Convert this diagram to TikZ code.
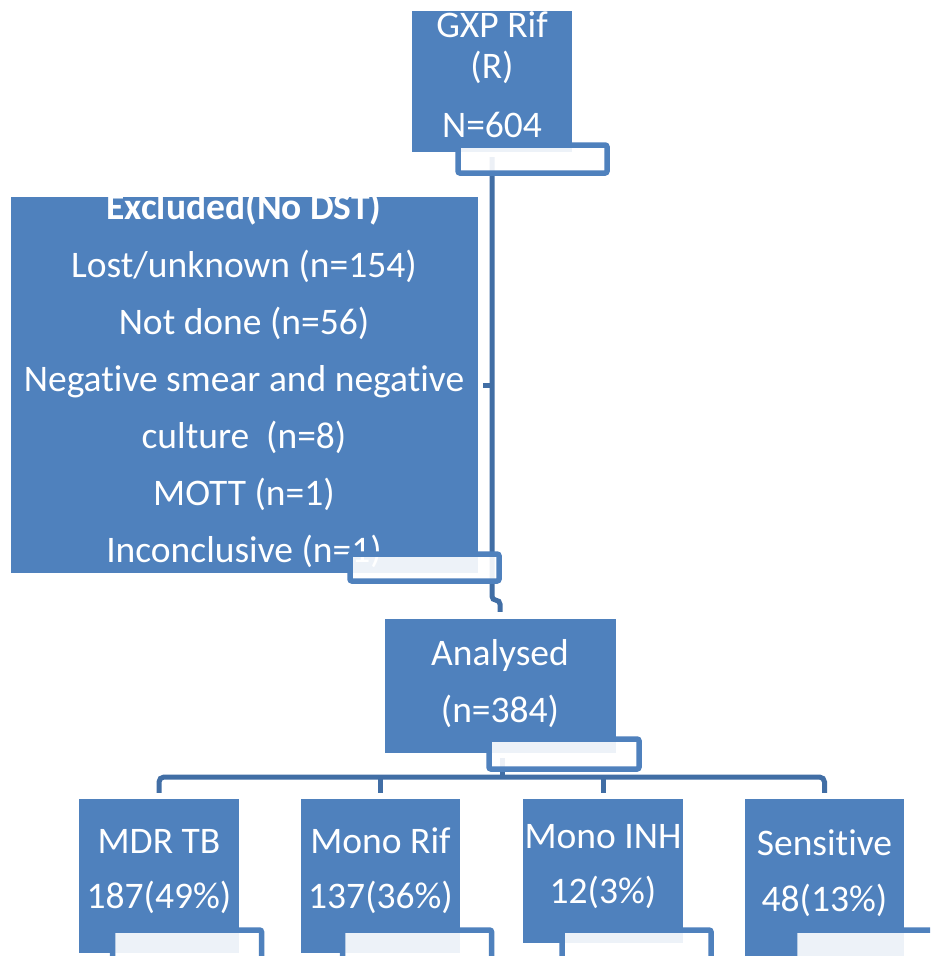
\documentclass[tikz,border=0pt]{standalone}
\usepackage{fontspec}
\setmainfont{Carlito}[Ligatures=NoCommon]
\usepackage{tikz}
\definecolor{boxblue}{HTML}{4F81BD}
\definecolor{lineblue}{HTML}{416EA5}
\tikzset{every node/.style={font=\fontsize{37.5}{45}\selectfont},
  bluebox/.style={fill=boxblue, inner sep=0pt},
  lbl/.style={text=white, anchor=base, inner sep=0pt},
  tagbox/.style={draw=boxblue, line width=5.5pt, fill=white, fill opacity=0.9,
    rounded corners=2pt, inner sep=0pt, minimum width=149pt, minimum height=28pt},
  link/.style={draw=lineblue, line width=5pt}}

\begin{document}
\begin{tikzpicture}[x=1pt,y=-1pt]
  \clip (0,0) rectangle (930,956);
  \fill[white] (0,0) rectangle (930,956);
  % boxes
  \node[bluebox, minimum width=160pt, minimum height=141pt] (gxp) at (492,81.5) {};
  \node[bluebox, minimum width=467pt, minimum height=376pt] (excl) at (244.5,385) {};
  \node[bluebox, minimum width=231pt, minimum height=134pt] (ana) at (500,686) {};
  \node[bluebox, minimum width=160pt, minimum height=154pt] (mdr) at (159,876) {};
  \node[bluebox, minimum width=159pt, minimum height=154pt] (rif) at (380.5,876) {};
  \node[bluebox, minimum width=160pt, minimum height=144pt] (inh) at (603,871) {};
  \node[bluebox, minimum width=159pt, minimum height=162pt] (sens) at (824.5,880) {};
  % texts
  \node[lbl] (gxp-a) at (492,37) {GXP Rif};
  \node[lbl] (gxp-b) at (492,78) {(R)};
  \node[lbl] (gxp-c) at (492,137) {N=604};
  \node[lbl] (excl-a) at (244,219) {\textbf{Excluded(No DST)}};
  \node[lbl] (excl-b) at (244,277) {Lost/unknown (n=154)};
  \node[lbl] (excl-c) at (244,334) {Not done (n=56)};
  \node[lbl] (excl-d) at (244,391) {Negative smear and negative};
  \node[lbl] (excl-e) at (244,448) {culture\ \ (n=8)};
  \node[lbl] (excl-f) at (244,505) {MOTT (n=1)};
  \node[lbl] (excl-g) at (244,562) {Inconclusive (n=1)};
  \node[lbl] (ana-a) at (500,665) {Analysed};
  \node[lbl] (ana-b) at (500,722) {(n=384)};
  \node[lbl] (mdr-a) at (159,853) {MDR TB};
  \node[lbl] (mdr-b) at (159,908) {187(49\%)};
  \node[lbl] (rif-a) at (380.5,853) {Mono Rif};
  \node[lbl] (rif-b) at (380.5,908) {137(36\%)};
  \node[lbl] (inh-a) at (603,848) {Mono INH};
  \node[lbl] (inh-b) at (603,903) {12(3\%)};
  \node[lbl] (sens-a) at (824.5,855) {Sensitive};
  \node[lbl] (sens-b) at (824.5,911) {48(13\%)};
  % connectors
  \coordinate (jn) at (492,385);
  \coordinate (bar) at (502,777);
  \draw[link, rounded corners=4pt] ([yshift=-5pt]gxp.south) -- ++(0,443) -| ([yshift=7pt]ana.north);
  \draw[link] (jn) -- ([xshift=5pt]excl.east);
  \draw[link] ([yshift=-5pt]ana.south -| bar) -- (bar);
  \draw[link, rounded corners=5pt] ([yshift=6pt]mdr.north) |- (bar) -| ([yshift=6pt]sens.north);
  \draw[link] (bar -| rif.north) -- ([yshift=6pt]rif.north);
  \draw[link] (bar -| inh.north) -- ([yshift=6pt]inh.north);
  % tags
  \node[tagbox] (gxp-tag) at (532.5,159) {};
  \node[tagbox, minimum height=27pt] (excl-tag) at (424.5,567.5) {};
  \node[tagbox, minimum width=150pt, minimum height=30pt] (ana-tag) at (564,754) {};
  \node[tagbox, minimum height=30pt] (mdr-tag) at (187,945) {};
  \node[tagbox, minimum height=30pt] (rif-tag) at (417,945) {};
  \node[tagbox, minimum height=30pt] (inh-tag) at (636.5,945) {};
  \node[tagbox, minimum height=30pt] (sens-tag) at (869,945) {};
\end{tikzpicture}
\end{document}
